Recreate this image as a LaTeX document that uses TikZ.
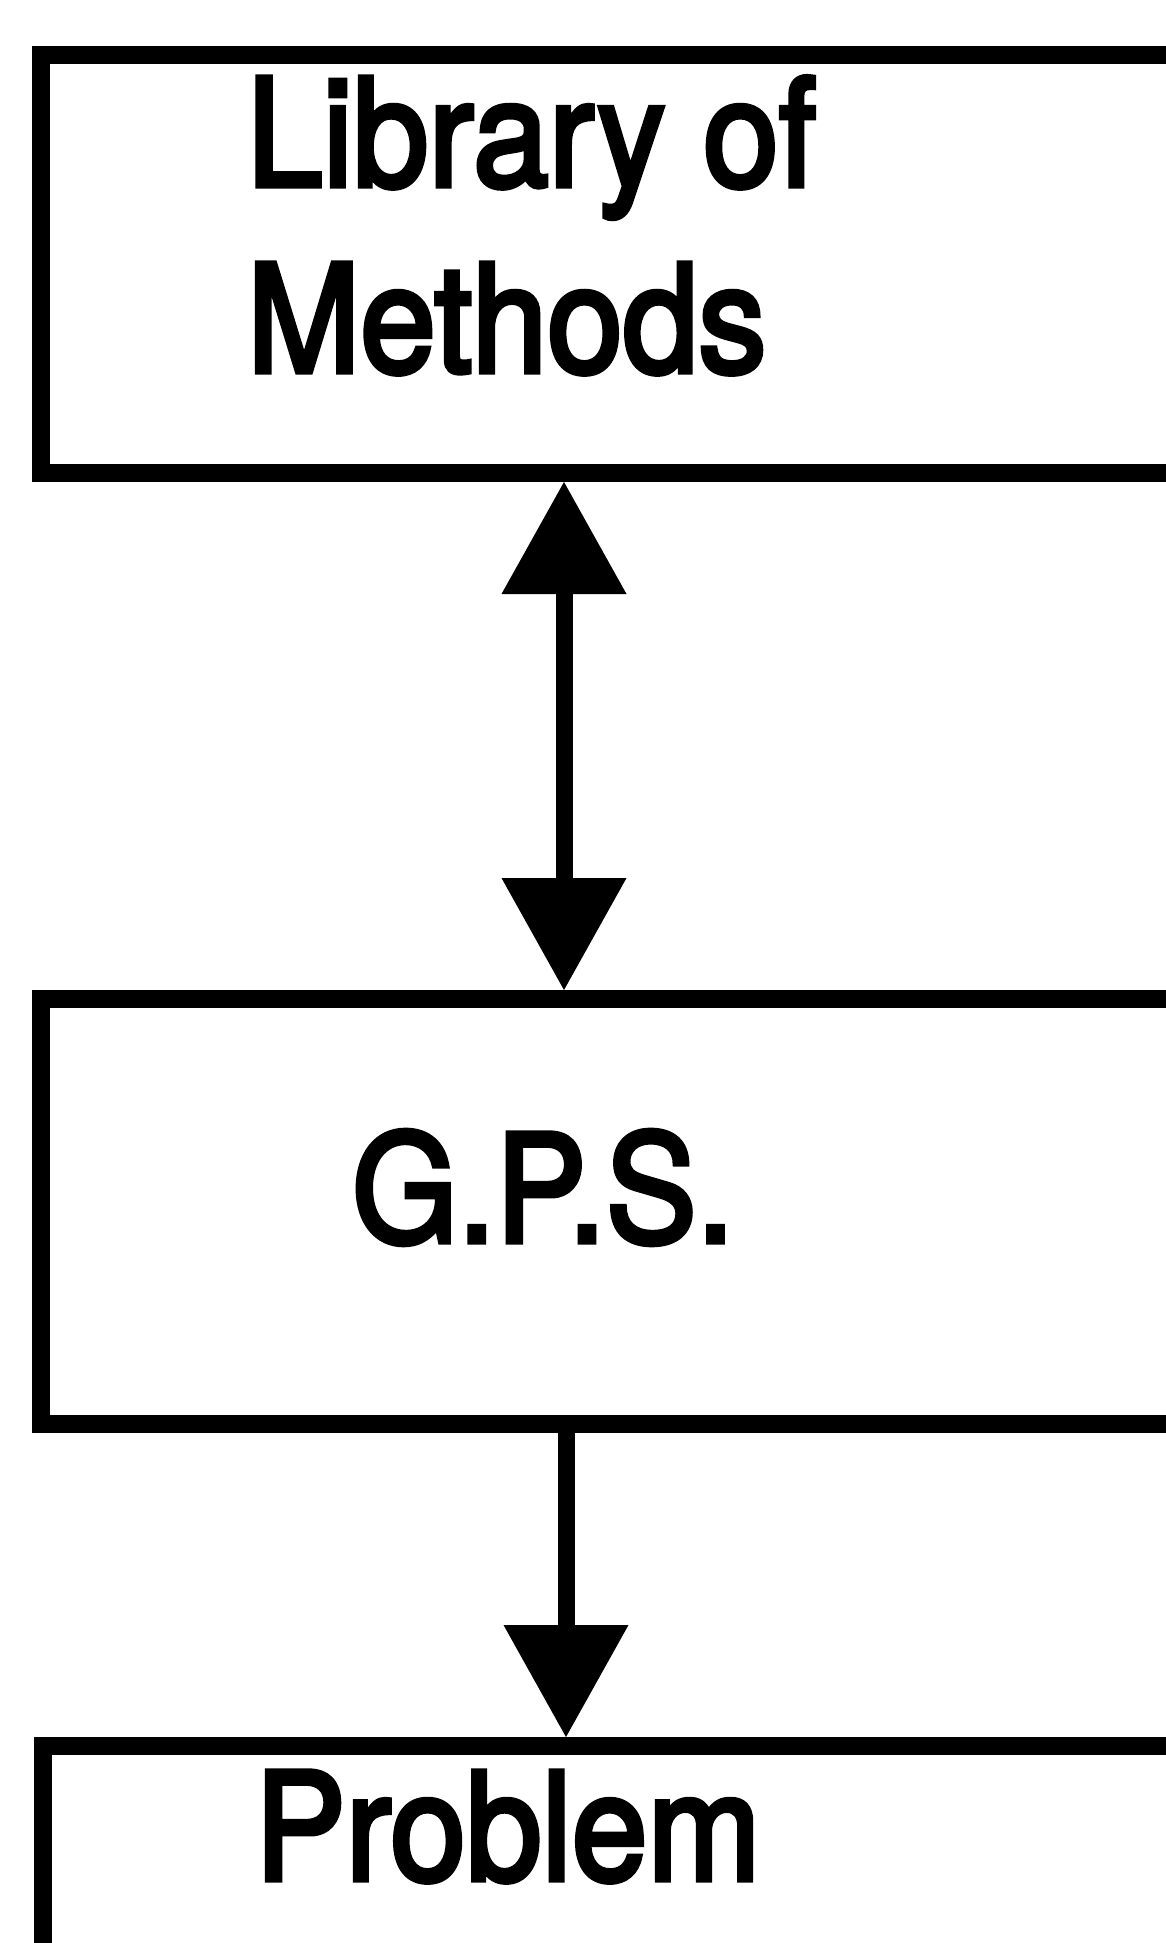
\documentclass[tikz,border=0pt]{standalone}
\usepackage{fontspec}
\setmainfont{TeX Gyre Heros}
\newfontfamily\lblfont[FakeBold=3.5]{TeX Gyre Heros}
\usetikzlibrary{arrows.meta}
\tikzset{
  box/.style={draw=black, line width=18pt, rectangle, inner sep=0pt,
              anchor=north west, minimum width=1400pt},
  label/.style={anchor=base west, inner sep=0pt, outer sep=0pt,
                font=\lblfont\fontsize{136}{150}\selectfont},
  conn/.style={line width=17pt,
               -{Triangle[width=125pt,length=112pt,line width=0pt]}},
  conn2/.style={line width=17pt,
               {Triangle[width=125pt,length=112pt,line width=0pt]}-{Triangle[width=125pt,length=112pt,line width=0pt]}}
}
\newcommand{\tallish}[1]{\scalebox{1}[1.10]{#1}}
\begin{document}
\begin{tikzpicture}[x=1pt,y=-1pt]
  \useasboundingbox (0,0) rectangle (1166,1943);
  \clip (0,0) rectangle (1166,1943);
  \fill[white] (0,0) rectangle (1166,1943);
  % boxes (anchor includes outer sep of half line width)
  \node[box, minimum height=418pt] (lib) at (32,46) {};
  \node[box, minimum height=425pt] (gps) at (32,990) {};
  \node[box, minimum height=600pt] (prob) at (34,1737) {};
  % texts
  \node[label] (t1) at (247,186) {\tallish{Library of}};
  \node[label] (t2) at (247,372) {\tallish{Methods}};
  \node[label] (t3) at (352,1242) {\tallish{G.P.S.}};
  \node[label] (t4) at (255,1880) {\tallish{Problem}};
  % connectors
  \draw[conn2] ([xshift=532pt]lib.south west) -- ([xshift=532pt]gps.north west);
  \draw[conn] ([xshift=534pt]gps.south west) -- ([xshift=532pt]prob.north west);
\end{tikzpicture}
\end{document}
